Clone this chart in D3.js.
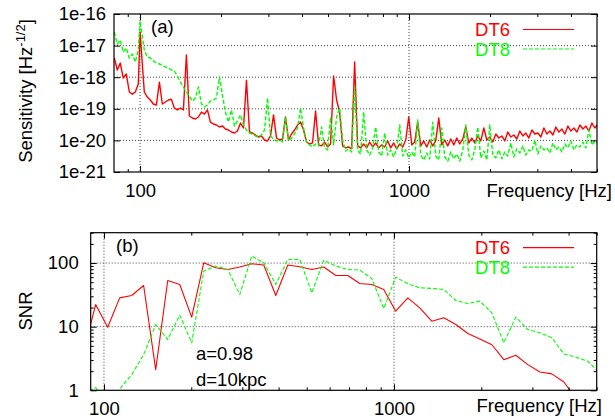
<!DOCTYPE html>
<html>
<head>
<meta charset="utf-8">
<script src="https://cdn.jsdelivr.net/npm/d3@7"></script>
<style>
  body { margin: 0; background: #fff; }
  svg { display: block; font-family: "Liberation Sans", Arial, sans-serif; }
  .axis text { font-family: "Liberation Sans", Arial, sans-serif; font-size: 18.5px; fill: #000; }
  .axis line { stroke: #000; }
  .grid line { stroke: #444; stroke-width: 1; stroke-dasharray: 1,2; }
  .lbl { font-size: 18.5px; fill: #000; }
</style>
</head>
<body>
<svg id="chart" width="615" height="419"></svg>
<script>
/* ---------------- DATA: panel (a) sensitivity ---------------- */
const freqHz = [80.2, 82.3, 84.4, 86.6, 88.9, 91.2, 93.6, 96.0, 98.5, 100,
  103.7, 106.4, 109.2, 112.0, 115.0, 118.0, 121.0, 124.2, 127.4, 130.7,
  134.1, 137.6, 141.2, 144.9, 148.7, 152.5, 156.5, 160.6, 164.8, 169.1,
  173.5, 178.0, 182.6, 187.4, 192.3, 197.3, 202.4, 207.7, 213.1, 218.7,
  224.4, 230.2, 236.2, 242.4, 248.7, 255.2, 261.8, 268.6, 275.6, 282.8,
  290.2, 297.8, 305.5, 313.5, 321.6, 330.0, 338.6, 347.4, 356.5, 365.8,
  375.3, 385.1, 395.1, 405.4, 416.0, 426.8, 437.9, 449.3, 461.0, 473.0,
  485.4, 498.0, 511.0, 524.3, 538.0, 552.0, 566.4, 581.2, 596.3, 611.9,
  627.8, 644.2, 661.0, 678.2, 695.9, 714.0, 732.6, 751.7, 771.3, 791.4,
  812.0, 833.2, 854.9, 877.2, 900.0, 923.5, 947.6, 972.3, 997.6, 1024,
  1050, 1077, 1106, 1134, 1164, 1194, 1225, 1257, 1290, 1324,
  1358, 1393, 1430, 1467, 1505, 1544, 1585, 1626, 1668, 1712,
  1756, 1802, 1849, 1897, 1947, 1997, 2049, 2103, 2157, 2214,
  2271, 2330, 2391, 2453, 2517, 2583, 2650, 2719, 2790, 2863,
  2937, 3014, 3092, 3173, 3255, 3340, 3427, 3516, 3608, 3702,
  3798, 3897, 3999, 4103, 4210, 4319, 4432, 4547, 4666, 4787,
  4912, 5040];

const dt6Sens = [4.05e-18, 1.69e-18, 2.81e-18, 9.4e-19, 1.26e-18, 3.4e-19, 2.9e-19, 3.4e-19, 6.1e-19, 2.69e-17,
  3.4e-19, 2.35e-19, 1.9e-19, 1.42e-19, 1.32e-19, 7.0e-19, 1.42e-19, 1.64e-19, 1.9e-19, 2.0e-19,
  1.06e-19, 9.2e-20, 1.06e-19, 9.2e-20, 5.04e-18, 5.9e-20, 5.1e-20, 4.75e-20, 5.5e-20, 7.9e-20,
  6.8e-20, 9.2e-20, 3.8e-20, 3.3e-20, 3.07e-20, 2.65e-20, 2.85e-20, 2.29e-20, 2.13e-20, 1.84e-20,
  1.71e-20, 1.98e-20, 3.55e-20, 2.47e-20, 8.1e-19, 1.84e-20, 1.71e-20, 1.48e-20, 1.28e-20, 1.38e-20,
  1.03e-20, 9.6e-21, 1.38e-20, 6.4e-20, 1.19e-20, 1.03e-20, 1.11e-20, 5.5e-20, 1.03e-20, 1.59e-20,
  2.13e-20, 3.07e-20, 3.8e-20, 2.13e-20, 8.9e-21, 7.7e-21, 8.3e-21, 8.5e-20, 7.2e-21, 6.7e-21,
  8.9e-21, 6.2e-21, 7.7e-21, 1.09e-18, 1.9e-19, 7.9e-20, 6.7e-21, 5.8e-21, 6.2e-21, 5.4e-21,
  3.02e-18, 6.7e-21, 5.8e-21, 7.7e-21, 5.8e-21, 8.9e-21, 6.2e-21, 8.3e-21, 5.8e-21, 7.2e-21,
  6.2e-21, 9.6e-21, 5.8e-21, 8.3e-21, 5.4e-21, 7.7e-21, 6.2e-21, 1.03e-20, 5.5e-20, 7.2e-21,
  8.9e-21, 3.8e-20, 6.7e-21, 9.6e-21, 6.2e-21, 1.03e-20, 6.7e-21, 9.6e-21, 5.1e-20, 7.2e-21,
  1.03e-20, 6.7e-21, 1.11e-20, 7.2e-21, 1.19e-20, 7.7e-21, 1.11e-20, 2.65e-20, 8.3e-21, 1.19e-20,
  8.3e-21, 1.38e-20, 9.6e-21, 2.47e-20, 1.03e-20, 1.28e-20, 8.9e-21, 1.59e-20, 1.19e-20, 1.38e-20,
  9.6e-21, 1.84e-20, 1.28e-20, 1.48e-20, 1.11e-20, 1.98e-20, 1.38e-20, 1.71e-20, 1.19e-20, 2.13e-20,
  1.59e-20, 1.71e-20, 1.28e-20, 2.47e-20, 1.59e-20, 1.98e-20, 1.48e-20, 2.65e-20, 1.84e-20, 2.29e-20,
  1.59e-20, 2.85e-20, 1.98e-20, 2.47e-20, 1.84e-20, 3.07e-20, 2.29e-20, 2.85e-20, 1.98e-20, 3.55e-20,
  2.47e-20, 3.3e-20];

const dt8Sens = [2.69e-17, 1.12e-17, 1.5e-17, 6.27e-18, 8.4e-18, 4.05e-18, 5.42e-18, 3.02e-18, 7.25e-18, 6.0e-17,
  7.25e-18, 4.35e-18, 4.05e-18, 3.25e-18, 2.81e-18, 2.61e-18, 2.43e-18, 2.1e-18, 1.95e-18, 1.69e-18,
  1.57e-18, 1.09e-18, 7.0e-19, 4.9e-19, 3.4e-19, 2.5e-19, 1.76e-19, 2.2e-19, 4.9e-19, 1.42e-19,
  1.14e-19, 1.32e-19, 1.76e-19, 1.9e-19, 2.2e-19, 1.01e-18, 2.7e-19, 7.9e-20, 3.8e-20, 9.2e-20,
  2.85e-20, 4.1e-20, 6.4e-20, 3.07e-20, 2.13e-20, 1.71e-20, 1.59e-20, 1.38e-20, 1.28e-20, 1.48e-20,
  2.13e-20, 2.2e-19, 1.38e-20, 1.11e-20, 9.6e-21, 1.03e-20, 8.9e-21, 5.5e-20, 9.6e-21, 1.19e-20,
  1.59e-20, 2.47e-20, 1.06e-19, 2.47e-20, 8.9e-21, 7.2e-21, 6.2e-21, 7.7e-21, 6.7e-21, 2.65e-20,
  5.8e-21, 5.0e-21, 5.5e-20, 7.2e-21, 5.5e-20, 1.06e-19, 1.03e-20, 4.6e-21, 5.4e-21, 4.3e-21,
  4.9e-19, 5.0e-21, 3.7e-21, 7.9e-20, 5.0e-21, 3.45e-21, 5.8e-21, 2.65e-20, 4.3e-21, 3.2e-21,
  1.71e-20, 3.45e-21, 5.0e-21, 3.0e-21, 5.4e-21, 3.07e-20, 3.2e-21, 5.0e-21, 2.8e-21, 4.3e-21,
  3.0e-21, 4.4e-20, 3.45e-21, 2.4e-21, 4.0e-21, 2.6e-21, 3.8e-20, 3.2e-21, 2.4e-21, 2.47e-20,
  3.0e-21, 2.2e-21, 4.3e-21, 2.6e-21, 3.7e-21, 2.2e-21, 5.0e-21, 3.07e-20, 3.45e-21, 2.4e-21,
  5.0e-21, 2.65e-20, 2.8e-21, 4.6e-21, 2.4e-21, 3.07e-20, 3.45e-21, 2.8e-21, 5.0e-21, 2.6e-21,
  4.3e-21, 3.2e-21, 8.3e-21, 3.0e-21, 5.4e-21, 4.0e-21, 6.7e-21, 3.45e-21, 5.0e-21, 4.6e-21,
  1.03e-20, 3.7e-21, 6.7e-21, 5.0e-21, 5.8e-21, 4.0e-21, 8.3e-21, 5.0e-21, 6.2e-21, 4.3e-21,
  7.7e-21, 5.8e-21, 9.6e-21, 5.0e-21, 7.2e-21, 6.2e-21, 8.9e-21, 5.8e-21, 2.13e-20, 7.2e-21,
  9.6e-21, 7.7e-21];

/* ---------------- DATA: panel (b) SNR ---------------- */
const snrFreq = [85.1, 93.6, 103, 113.3, 124.6, 137, 150.8, 165.9, 182.5, 200.7,
  220.8, 242.9, 267.2, 293.9, 323.3, 355.6, 391.2, 430.3, 473.3, 520.6,
  572.7, 630, 693, 762, 838, 922, 1014, 1116, 1227, 1350,
  1485, 1634, 1797, 1977, 2175, 2392, 2631, 2894, 3184, 3502,
  3852, 4237, 4661, 5127];

const dt6Snr = [4, 22.3, 9.8, 28.4, 30.9, 44.4, 2.11, 53.2, 46, 14.1,
  101, 84.3, 79.3, 86.5, 97.5, 93, 30.9, 93, 87.5, 79.3,
  86.5, 63.8, 63.8, 47.7, 46, 38.4, 17.5, 28.4, 19.8, 12.2,
  13.8, 10.8, 7.8, 6.4, 5.2, 3.03, 3.56, 2.53, 1.94, 1.81,
  1.35, 0.75, 0.55, 0.45];

const dt8Snr = [0.9, 1.1, 0.6, 1.05, 1.76, 3.64, 10.8, 6.27, 15.2, 5.56,
  74.8, 89.7, 79.3, 32, 129, 101, 46, 114, 114, 34,
  111, 89.7, 79.3, 77.6, 57.2, 19.3, 60.2, 47.2, 40.8, 40,
  38.4, 25.8, 23.1, 25.2, 16.5, 5.56, 14.1, 9.0, 8.0, 6.7,
  3.73, 3.31, 2.86, 1.87];

const seriesNames = ["DT6", "DT8"];
const seriesColors = ["#ff0000", "#00ff00"];

const sensTicks = [1e-21, 1e-20, 1e-19, 1e-18, 1e-17, 1e-16];
const snrTicks = [1, 10, 100];
const snrMinor = [2, 3, 4, 5, 6, 7, 8, 9, 20, 30, 40, 50, 60, 70, 80, 90, 200, 300];
const freqMajor = [100, 1000];
const freqMinorTop = [90, 200, 300, 400, 500, 600, 700, 800, 900, 2000, 3000, 4000, 5000];
const freqMinorBot = [200, 300, 400, 500, 600, 700, 800, 900, 2000, 3000, 4000, 5000];

/* ---------------- SVG SETUP ---------------- */
const svg = d3.select("#chart");

const boxA = { left: 114, right: 597, top: 14, bottom: 172 };
const boxB = { left: 90.7, right: 596.7, top: 232.7, bottom: 390.3 };

const xA = d3.scaleLog().domain([80, 5000]).range([boxA.left, boxA.right]);
const yA = d3.scaleLog().domain([1e-21, 1e-16]).range([boxA.bottom, boxA.top]);
const xB = d3.scaleLog().domain([90, 5000]).range([boxB.left, boxB.right]);
const yB = d3.scaleLog().domain([1, 300]).range([boxB.bottom, boxB.top]);

/* ---------------- PANEL HELPER ---------------- */
function drawPanel(box, x, y, o) {
  const g = svg.append("g");

  // grid
  const grid = g.append("g").attr("class", "grid");
  grid.selectAll(".gx").data(freqMajor).enter().append("line")
    .attr("x1", d => x(d)).attr("x2", d => x(d))
    .attr("y1", box.top).attr("y2", box.bottom);
  grid.selectAll(".gy").data(o.yGrid).enter().append("line")
    .attr("x1", box.left).attr("x2", box.right)
    .attr("y1", d => y(d)).attr("y2", d => y(d));

  // clipped data lines
  g.append("clipPath").attr("id", o.clip).append("rect")
    .attr("x", box.left).attr("y", box.top)
    .attr("width", box.right - box.left).attr("height", box.bottom - box.top);
  const line = d3.line().x(d => x(d[0])).y(d => y(d[1]));
  o.series.forEach((s, i) => {
    g.append("path")
      .attr("clip-path", `url(#${o.clip})`)
      .attr("d", line(d3.zip(o.freq, s)))
      .attr("fill", "none")
      .attr("stroke", seriesColors[i])
      .attr("stroke-width", o.lw)
      .attr("stroke-linejoin", "round")
      .attr("stroke-dasharray", i === 1 ? "4,2" : null);
  });

  // axes: ticks on all four sides, pointing inward
  const ax = (sel) => { sel.attr("class", "axis").select(".domain").remove(); };
  g.append("g").attr("transform", `translate(0,${box.bottom})`)
    .call(d3.axisBottom(x).tickValues(freqMajor).tickSize(-6).tickPadding(o.xPad).tickFormat(d3.format("d"))).call(ax);
  g.append("g").attr("transform", `translate(0,${box.bottom})`)
    .call(d3.axisBottom(x).tickValues(o.xMinor).tickSize(-3).tickFormat("")).call(ax);
  g.append("g").attr("transform", `translate(0,${box.top})`)
    .call(d3.axisTop(x).tickValues(freqMajor).tickSize(-6).tickFormat("")).call(ax);
  g.append("g").attr("transform", `translate(0,${box.top})`)
    .call(d3.axisTop(x).tickValues(o.xMinor).tickSize(-3).tickFormat("")).call(ax);
  g.append("g").attr("transform", `translate(${box.left},0)`)
    .call(d3.axisLeft(y).tickValues(o.yTicks).tickSize(-6).tickPadding(o.yPad).tickFormat(o.yFmt)).call(ax);
  g.append("g").attr("transform", `translate(${box.right},0)`)
    .call(d3.axisRight(y).tickValues(o.yTicks).tickSize(-6).tickFormat("")).call(ax);
  if (o.yMinor) {
    g.append("g").attr("transform", `translate(${box.left},0)`)
      .call(d3.axisLeft(y).tickValues(o.yMinor).tickSize(-3).tickFormat("")).call(ax);
    g.append("g").attr("transform", `translate(${box.right},0)`)
      .call(d3.axisRight(y).tickValues(o.yMinor).tickSize(-3).tickFormat("")).call(ax);
  }

  // frame
  g.append("rect")
    .attr("x", box.left).attr("y", box.top)
    .attr("width", box.right - box.left).attr("height", box.bottom - box.top)
    .attr("fill", "none").attr("stroke", "#000").attr("stroke-width", 1.2);

  // x label
  g.append("text").attr("class", "lbl")
    .attr("x", o.xLabelX).attr("y", o.xLabelY).attr("text-anchor", "end")
    .text("Frequency [Hz]");

  // legend
  seriesNames.forEach((name, i) => {
    const ly = o.legendY + i * 19.5;
    g.append("text").attr("class", "lbl")
      .attr("x", 510).attr("y", ly + 6.5).attr("text-anchor", "end")
      .style("fill", seriesColors[i]).text(name);
    g.append("line")
      .attr("x1", 523).attr("x2", 574).attr("y1", ly).attr("y2", ly)
      .attr("stroke", seriesColors[i]).attr("stroke-width", 1.2)
      .attr("stroke-dasharray", i === 1 ? "4,2" : null);
  });

  // panel tag
  g.append("text").attr("class", "lbl")
    .attr("x", o.tagX).attr("y", o.tagY).text(o.tag);
  return g;
}

/* ---------------- PANEL (a) ---------------- */
drawPanel(boxA, xA, yA, {
  clip: "clipA", freq: freqHz, series: [dt6Sens, dt8Sens], lw: 1.4,
  yGrid: [1e-20, 1e-19, 1e-18, 1e-17], yTicks: sensTicks,
  yFmt: d => "1e" + Math.round(Math.log10(d)), yPad: 8, xPad: 12,
  xMinor: freqMinorTop, xLabelX: 612, xLabelY: 197,
  legendY: 29.5, tag: "(a)", tagX: 151, tagY: 33
});

const sensLabel = svg.append("text").attr("class", "lbl")
  .attr("transform", "translate(32,91) rotate(-90)")
  .attr("text-anchor", "middle");
sensLabel.append("tspan").text("Sensitivity [Hz");
sensLabel.append("tspan").attr("dy", -7).style("font-size", "13px").text("-1/2");
sensLabel.append("tspan").attr("dy", 7).text("]");

/* ---------------- PANEL (b) ---------------- */
const gB = drawPanel(boxB, xB, yB, {
  clip: "clipB", freq: snrFreq, series: [dt6Snr, dt8Snr], lw: 1.1,
  yGrid: [10, 100], yTicks: snrTicks, yMinor: snrMinor,
  yFmt: d3.format("d"), yPad: 12, xPad: 12,
  xMinor: freqMinorBot, xLabelX: 602, xLabelY: 412,
  legendY: 247.7, tag: "(b)", tagX: 116, tagY: 252
});

gB.append("text").attr("class", "lbl").attr("x", 196).attr("y", 360).text("a=0.98");
gB.append("text").attr("class", "lbl").attr("x", 196).attr("y", 386).text("d=10kpc");

svg.append("text").attr("class", "lbl")
  .attr("transform", "translate(32,311) rotate(-90)")
  .attr("text-anchor", "middle")
  .text("SNR");
</script>
</body>
</html>
